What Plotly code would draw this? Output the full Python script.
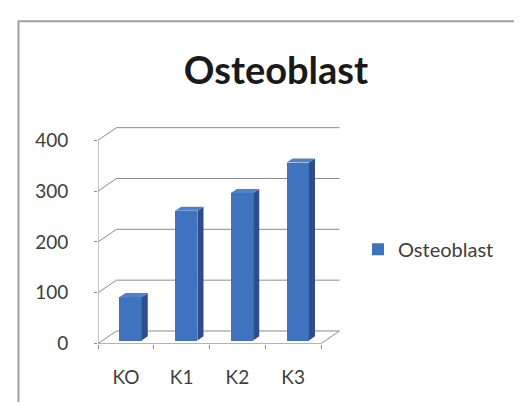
import plotly.graph_objects as go

categories = ["KO", "K1", "K2", "K3"]
values = [85, 255, 290, 350]
y_ticks = [0, 100, 200, 300, 400]
series_name = "Osteoblast"
title_text = "Osteoblast"

W, H = 522, 405
# pixel layout of the plot area
PX_UNIT_X = 55.75      # px per category
PX_UNIT_Y = 0.5225     # px per value unit
X0_PX, X1_PX = 90, 345
Y_BOT_PX, Y_TOP_PX = 345, 115

# 3D depth offsets in data units
DX = 18.5 / PX_UNIT_X
DY = 13.0 / PX_UNIT_Y
D0, D1 = 0.25, 0.58     # bar depth span (fraction of wall depth)
HALF_W = 0.2

n = len(categories)
xs = list(range(n))
x_lo, x_hi = -0.5, n - 0.5

FRONT = "#3F72BF"
SIDE = "#2C4F8C"
TOP = "#4F82CC"
GRID = "#8C8C8C"
FONT = "Lato"

fig = go.Figure()

# side and top faces of each bar
for c, v in zip(xs, values):
    xr = c + HALF_W
    xl = c - HALF_W
    side_x = [xr + D0 * DX, xr + D1 * DX, xr + D1 * DX, xr + D0 * DX, xr + D0 * DX]
    side_y = [D0 * DY, D1 * DY, v + D1 * DY, v + D0 * DY, D0 * DY]
    fig.add_trace(go.Scatter(x=side_x, y=side_y, fill="toself", fillcolor=SIDE,
                             mode="lines", line=dict(width=0, color=SIDE),
                             showlegend=False, hoverinfo="skip"))
    top_x = [xl + D0 * DX, xr + D0 * DX, xr + D1 * DX, xl + D1 * DX, xl + D0 * DX]
    top_y = [v + D0 * DY, v + D0 * DY, v + D1 * DY, v + D1 * DY, v + D0 * DY]
    fig.add_trace(go.Scatter(x=top_x, y=top_y, fill="toself", fillcolor=TOP,
                             mode="lines", line=dict(width=0, color=TOP),
                             showlegend=False, hoverinfo="skip"))

# front faces
fig.add_trace(go.Bar(
    x=[c + D0 * DX for c in xs], y=values, base=D0 * DY, width=2 * HALF_W,
    marker=dict(color=FRONT, line=dict(width=0)), name=series_name,
    showlegend=True,
))

# back wall gridlines + left wall diagonals + floor (below traces)
shapes = []
for g in y_ticks:
    path = f"M {x_lo},{g} L {x_lo + DX},{g + DY} L {x_hi + DX},{g + DY}"
    shapes.append(dict(type="path", path=path, xref="x", yref="y",
                       line=dict(color=GRID, width=1), layer="below"))
shapes.append(dict(type="line", xref="x", yref="y", x0=x_hi, y0=0,
                   x1=x_hi + DX, y1=DY, line=dict(color=GRID, width=1), layer="below"))
# front axis lines (vertical value axis and category axis)
shapes.append(dict(type="line", xref="x", yref="y", x0=x_lo, y0=y_ticks[0],
                   x1=x_lo, y1=y_ticks[-1], line=dict(color=GRID, width=1), layer="above"))
shapes.append(dict(type="line", xref="x", yref="y", x0=x_lo, y0=0,
                   x1=x_hi, y1=0, line=dict(color=GRID, width=1), layer="above"))
# outer chart border (top and left only visible)
shapes.append(dict(type="path", xref="paper", yref="paper",
                   path=f"M {10.5 / W},0 L {10.5 / W},{1 - 13.5 / H} L 1.01,{1 - 13.5 / H}",
                   line=dict(color="#A0A0A0", width=2), layer="above"))

x_range = [x_lo, x_lo + (X1_PX - X0_PX) / PX_UNIT_X]
y_range = [0, (Y_BOT_PX - Y_TOP_PX) / PX_UNIT_Y]

fig.update_layout(
    width=W, height=H,
    margin=dict(l=0, r=0, t=0, b=0),
    paper_bgcolor="white", plot_bgcolor="rgba(0,0,0,0)",
    shapes=shapes,
    title=dict(text=f"<b>{title_text}</b>", x=268 / W, xanchor="center",
               y=1 - 63 / H, yanchor="middle",
               font=dict(family=FONT, size=38, color="#1A1A1A")),
    font=dict(family=FONT, color="#404040"),
    showlegend=True,
    legend=dict(x=350 / W, xanchor="left", y=1 - 248 / H, yanchor="middle",
                font=dict(family=FONT, size=20, color="#404040"),
                bgcolor="rgba(0,0,0,0)"),
    xaxis=dict(domain=[X0_PX / W, X1_PX / W], range=x_range,
               tickmode="array", tickvals=[x_lo + i for i in range(n + 1)],
               ticktext=["" for _ in range(n + 1)],
               ticks="outside", ticklen=4, tickcolor=GRID,
               showline=False,
               showgrid=False, zeroline=False, fixedrange=True),
    xaxis2=dict(domain=[X0_PX / W, X1_PX / W], range=x_range, overlaying="x",
                anchor="y", side="bottom",
                tickmode="array", tickvals=xs, ticktext=categories,
                ticks="", showline=False, showgrid=False, zeroline=False,
                ticklabelstandoff=20,
                tickfont=dict(family=FONT, size=19, color="#404040")),
    yaxis=dict(domain=[1 - Y_BOT_PX / H, 1 - Y_TOP_PX / H], range=y_range,
               tickmode="array", tickvals=y_ticks,
               ticks="outside", ticklen=3, tickcolor=GRID,
               showline=False,
               showgrid=False, zeroline=False, ticklabelstandoff=22,
               tickfont=dict(family=FONT, size=19, color="#404040")),
    bargap=0,
)
# invisible trace so the category labels axis is shown
fig.add_trace(go.Scatter(x=[xs[0]], y=[0], xaxis="x2", mode="markers",
                         marker=dict(opacity=0), showlegend=False, hoverinfo="skip"))

fig.write_html("out.html")
